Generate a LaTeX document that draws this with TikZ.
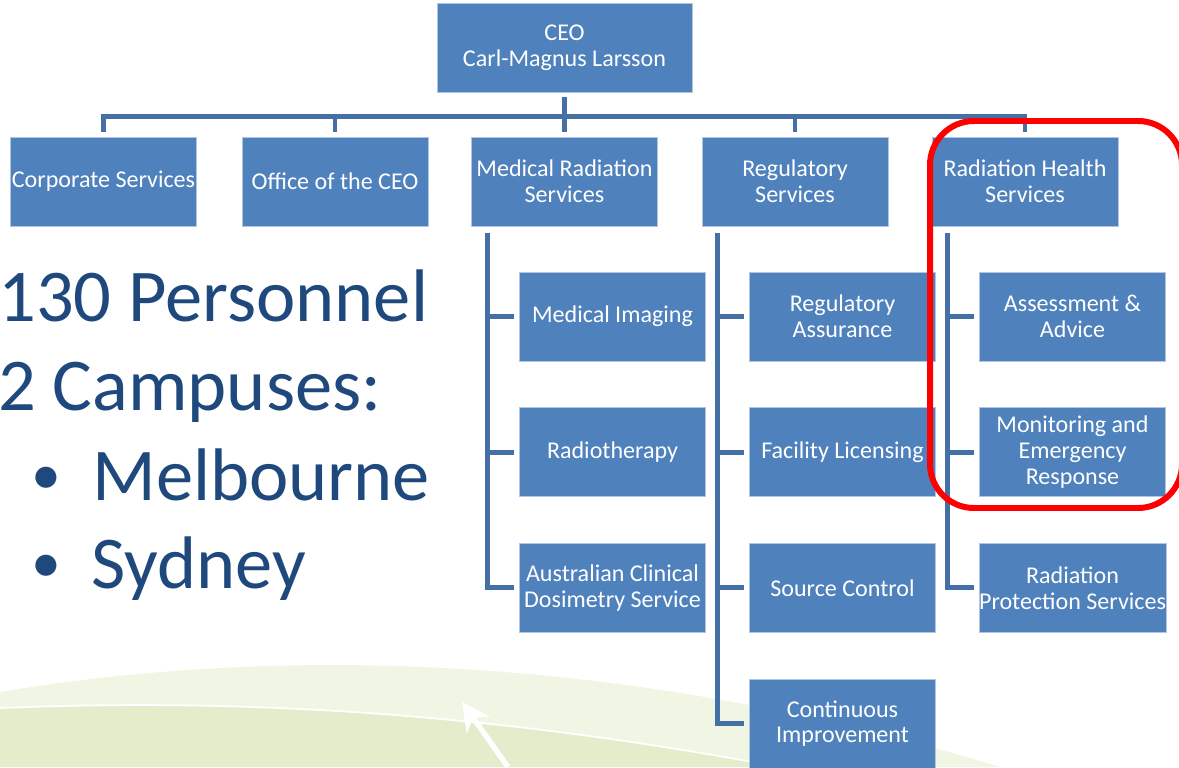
\documentclass[tikz,border=0pt]{standalone}
\usepackage{fontspec}
\setmainfont{Carlito}
\usepackage{tikz}
\usetikzlibrary{positioning,arrows.meta}

\definecolor{boxblue}{HTML}{4F81BD}
\definecolor{lineblue}{HTML}{4470A6}
\definecolor{textblue}{HTML}{1F497D}
\definecolor{leafa}{HTML}{F1F6E4}
\definecolor{leafb}{HTML}{E3EDCB}

\begin{document}
\begin{tikzpicture}[x=0.02cm,y=-0.02cm,node distance=0.92cm,
  box/.style={rectangle,fill=boxblue,draw=boxblue!45!white,line width=0.4pt,text=white,align=center,
    minimum width=3.72cm,minimum height=1.78cm,inner sep=0pt,font=\fontsize{13.7}{14.7}\selectfont},
  conn/.style={draw=lineblue,line width=2.8pt,shorten <=2.8pt,shorten >=2.8pt},
  big/.style={anchor=base west,inner sep=0pt,text=textblue,font=\fontsize{42.4}{50}\selectfont},
  dot/.style={anchor=base west,inner sep=0pt,text=textblue,font=\fontsize{34}{40}\selectfont},
  ring/.style={draw=red,line width=3.4pt,rounded corners=25pt}]
  \useasboundingbox (0,0) rectangle (1179,767);

  % background swoosh
  \fill[leafa] (0,767) -- (0,692) .. controls (250,650) and (600,645) .. (1000,767) -- cycle;
  \fill[leafb] (0,767) -- (0,708) .. controls (200,700) and (450,705) .. (780,767) -- cycle;
  \draw[white,line width=1pt] (0,708) .. controls (200,700) and (450,705) .. (780,767);
  \draw[white,line width=3pt,-{Stealth[length=16pt,width=16pt]}] (508,767) -- (462,702);

  % top level
  \node [box,minimum width=5.1cm] (CEO) at (564.5,47.5) {CEO\\Carl-Magnus Larsson};
  \node [box] (CS)  at (103.5,181.5) {Corporate Services};
  \node [box] (OC)  at (335,181.5)   {Office of the CEO};
  \node [box] (MRS) at (564.5,181.5) {Medical Radiation\\Services};
  \node [box] (RS)  at (795,181.5)   {Regulatory\\Services};
  \node [box] (RHS) at (1025,181.5)  {Radiation Health\\Services};

  % medical radiation
  \node [box] (MI)   at (612.5,316.5) {Medical Imaging};
  \node [box] (RT)   [below=of MI]    {Radiotherapy};
  \node [box] (ACDS) [below=of RT]    {Australian Clinical\\Dosimetry Service};

  % regulatory
  \node [box] (RA)  at (842.5,316.5) {Regulatory\\Assurance};
  \node [box] (FL)  [below=of RA]    {Facility Licensing};
  \node [box] (SC)  [below=of FL]    {Source Control};
  \node [box] (CI)  [below=of SC]    {Continuous\\Improvement};

  % radiation health
  \node [box] (AA)  at (1072.5,316.5) {Assessment \&\\Advice};
  \node [box] (MER) [below=of AA]     {Monitoring and\\Emergency\\Response};
  \node [box] (RPS) [below=of MER]    {Radiation\\Protection Services};

  \foreach \d in {CS,OC,MRS,RS,RHS}
    \draw [conn] (CEO.south) -- ++(0,24) -| (\d.north);
  \foreach \s in {MI,RT,ACDS}
    \draw [conn,shorten <=0pt] (MRS.south west) ++(16,7) |- (\s.west);
  \foreach \s in {RA,FL,SC,CI}
    \draw [conn,shorten <=0pt] (RS.south west) ++(16,7) |- (\s.west);
  \foreach \s in {AA,MER,RPS}
    \draw [conn,shorten <=0pt] (RHS.south west) ++(16,7) |- (\s.west);

  \draw [ring] (930,121) rectangle (1182,508);

  % left text
  \node [big] (n130)  at (-2,321) {130 Personnel};
  \node [big] (ncamp) at (-2,410) {2 Campuses:};
  \node [dot] (bmelb) at (31,494) {•};
  \node [big] (nmelb) at (92,500) {Melbourne};
  \node [dot] (bsyd)  at (31,582) {•};
  \node [big] (nsyd)  at (91,588) {Sydney};
\end{tikzpicture}
\end{document}
